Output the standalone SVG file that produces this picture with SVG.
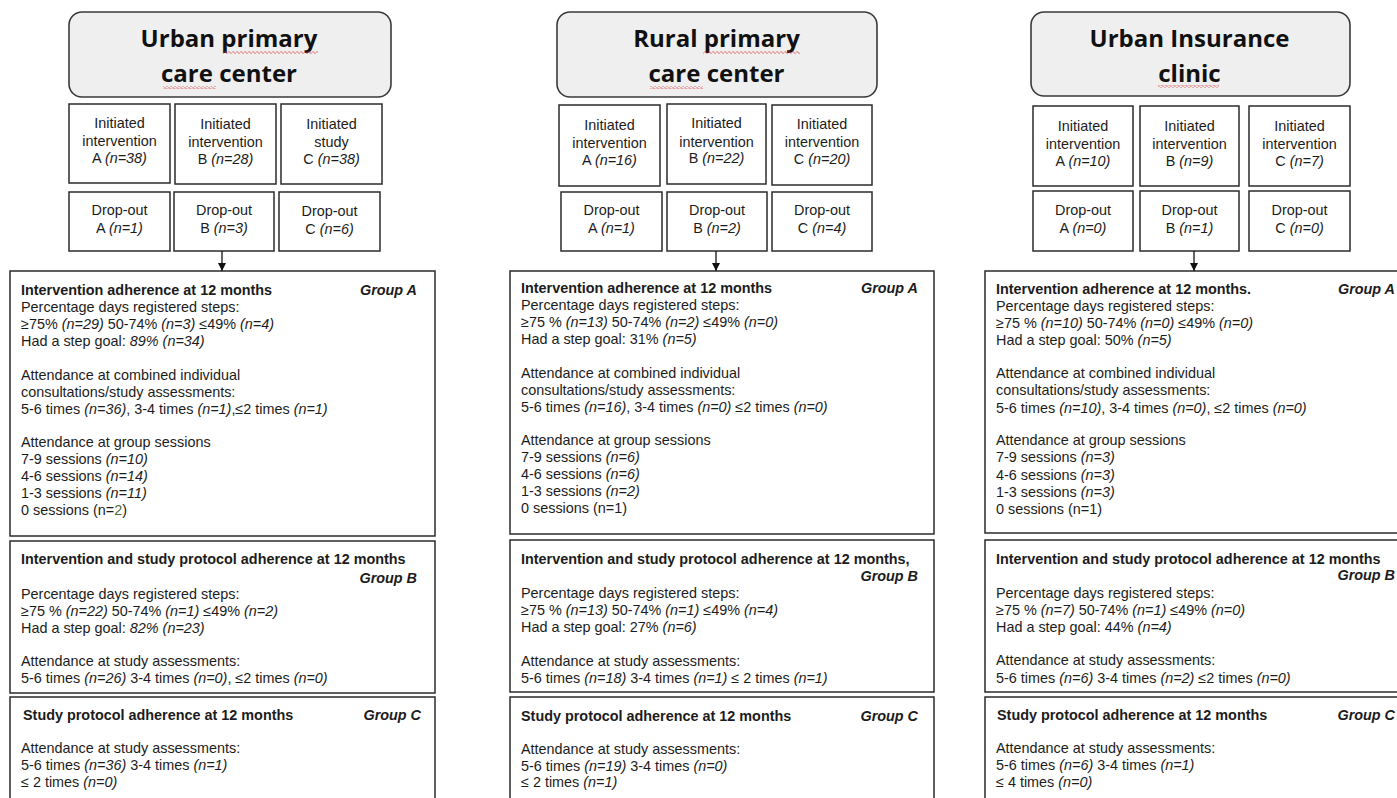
<svg xmlns="http://www.w3.org/2000/svg" width="1397" height="798" viewBox="0 0 1397 798">
<style>
.bg{fill:#ffffff}
.box{fill:#ffffff;stroke:#2b2b2b;stroke-width:1.5}
.hd{fill:#efefef;stroke:#3a3a3a;stroke-width:1.6}
.t{font-family:"Liberation Sans",Arial,sans-serif;font-size:14.4px;fill:#1c1c1c}
.c{text-anchor:middle}
.r{text-anchor:end}
.b{font-weight:bold}
.i{font-style:italic}
.h{font-family:"Open Sans","Liberation Sans",sans-serif;font-weight:bold;font-size:24px;text-anchor:middle;fill:#111111}
.g{fill:#4b6e33}
.sq{fill:url(#wave)}
.ln{stroke:#111111;stroke-width:1.3;fill:none}
</style>
<defs>
<pattern id="wave" x="0" y="0" width="4" height="3" patternUnits="userSpaceOnUse">
<path d="M0 1.5 L1 0.5 L3 2.5 L4 1.5" fill="none" stroke="#d93030" stroke-width="0.8"/>
</pattern>
<marker id="ah" viewBox="0 0 10 10" refX="10" refY="5" markerWidth="8" markerHeight="8" markerUnits="userSpaceOnUse" orient="auto">
<path d="M0 0 L10 5 L0 10 Z" fill="#111111"/>
</marker>
</defs>
<rect class="bg" x="0" y="0" width="1397" height="798"/>

<!-- LEFT COLUMN -->
<g id="urban-primary-title">
<rect class="hd" x="69" y="12" width="322" height="85" rx="13"/>
<text class="h" x="229" y="47">Urban primary</text>
<text class="h" x="229" y="82">care center</text>
<rect class="sq" x="223" y="51" width="95" height="3"/>
<rect class="sq" x="163" y="86" width="53" height="3"/>
</g>
<g id="up-init-a">
<rect class="box" x="69" y="104" width="101" height="79"/>
<text class="t c" x="119.5" y="128">Initiated</text>
<text class="t c" x="119.5" y="146">intervention</text>
<text class="t c" x="119.5" y="163">A <tspan class="i">(n=38)</tspan></text>
</g>
<g id="up-init-b">
<rect class="box" x="175" y="104" width="101" height="80"/>
<text class="t c" x="225.5" y="129">Initiated</text>
<text class="t c" x="225.5" y="147">intervention</text>
<text class="t c" x="225.5" y="164">B <tspan class="i">(n=28)</tspan></text>
</g>
<g id="up-init-c">
<rect class="box" x="281" y="104" width="101" height="80"/>
<text class="t c" x="331.5" y="129">Initiated</text>
<text class="t c" x="331.5" y="147">study</text>
<text class="t c" x="331.5" y="164">C <tspan class="i">(n=38)</tspan></text>
</g>
<g id="up-drop-a">
<rect class="box" x="69" y="192" width="101" height="59"/>
<text class="t c" x="119.5" y="215">Drop-out</text>
<text class="t c" x="119.5" y="233">A <tspan class="i">(n=1)</tspan></text>
</g>
<g id="up-drop-b">
<rect class="box" x="174" y="192" width="100" height="59"/>
<text class="t c" x="224" y="215">Drop-out</text>
<text class="t c" x="224" y="233">B <tspan class="i">(n=3)</tspan></text>
</g>
<g id="up-drop-c">
<rect class="box" x="279" y="192" width="101" height="59"/>
<text class="t c" x="329.5" y="216">Drop-out</text>
<text class="t c" x="329.5" y="234">C <tspan class="i">(n=6)</tspan></text>
</g>
<g id="up-group-a">
<rect class="box" x="10" y="271" width="425" height="265"/>
<text class="t b" x="21" y="295">Intervention adherence at 12 months</text>
<text class="t b i r" x="417" y="295">Group A</text>
<text class="t" x="21" y="312">Percentage days registered steps:</text>
<text class="t" x="21" y="329">≥75% <tspan class="i">(n=29)</tspan> 50-74% <tspan class="i">(n=3)</tspan> ≤49% <tspan class="i">(n=4)</tspan></text>
<text class="t" x="21" y="346">Had a step goal: <tspan class="i">89% (n=34)</tspan></text>
<text class="t" x="21" y="380">Attendance at combined individual</text>
<text class="t" x="21" y="397">consultations/study assessments:</text>
<text class="t" x="21" y="414">5-6 times <tspan class="i">(n=36)</tspan>, 3-4 times <tspan class="i">(n=1)</tspan>,≤2 times <tspan class="i">(n=1)</tspan></text>
<text class="t" x="21" y="447">Attendance at group sessions</text>
<text class="t" x="21" y="464">7-9 sessions <tspan class="i">(n=10)</tspan></text>
<text class="t" x="21" y="481">4-6 sessions <tspan class="i">(n=14)</tspan></text>
<text class="t" x="21" y="498">1-3 sessions <tspan class="i">(n=11)</tspan></text>
<text class="t" x="21" y="515">0 sessions (n=<tspan class="g">2</tspan>)</text>
</g>
<g id="up-group-b">
<rect class="box" x="10" y="541" width="425" height="152"/>
<text class="t b" x="21" y="564">Intervention and study protocol adherence at 12 months</text>
<text class="t b i r" x="417" y="583">Group B</text>
<text class="t" x="21" y="599">Percentage days registered steps:</text>
<text class="t" x="21" y="616">≥75 % <tspan class="i">(n=22)</tspan> 50-74% <tspan class="i">(n=1)</tspan> ≤49% <tspan class="i">(n=2)</tspan></text>
<text class="t" x="21" y="633">Had a step goal: <tspan class="i">82% (n=23)</tspan></text>
<text class="t" x="21" y="666">Attendance at study assessments:</text>
<text class="t" x="21" y="683">5-6 times <tspan class="i">(n=26)</tspan> 3-4 times <tspan class="i">(n=0)</tspan>, ≤2 times <tspan class="i">(n=0)</tspan></text>
</g>
<g id="up-group-c">
<rect class="box" x="10" y="697" width="425" height="110"/>
<text class="t b" x="23" y="720">Study protocol adherence at 12 months</text>
<text class="t b i r" x="421" y="720">Group C</text>
<text class="t" x="21" y="753">Attendance at study assessments:</text>
<text class="t" x="21" y="770">5-6 times <tspan class="i">(n=36)</tspan> 3-4 times <tspan class="i">(n=1)</tspan></text>
<text class="t" x="21" y="787">≤ 2 times <tspan class="i">(n=0)</tspan></text>
</g>

<!-- MIDDLE COLUMN -->
<g id="rural-primary-title">
<rect class="hd" x="557" y="12" width="320" height="85" rx="13"/>
<text class="h" x="716.5" y="47">Rural primary</text>
<text class="h" x="716.5" y="82">care center</text>
<rect class="sq" x="703" y="51" width="97" height="3"/>
<rect class="sq" x="650" y="86" width="53" height="3"/>
</g>
<g id="rp-init-a">
<rect class="box" x="559" y="105" width="101" height="81"/>
<text class="t c" x="609.5" y="130">Initiated</text>
<text class="t c" x="609.5" y="148">intervention</text>
<text class="t c" x="609.5" y="165">A <tspan class="i">(n=16)</tspan></text>
</g>
<g id="rp-init-b">
<rect class="box" x="667" y="104" width="99" height="80"/>
<text class="t c" x="716.5" y="128">Initiated</text>
<text class="t c" x="716.5" y="147">intervention</text>
<text class="t c" x="716.5" y="163">B <tspan class="i">(n=22)</tspan></text>
</g>
<g id="rp-init-c">
<rect class="box" x="772" y="105" width="100" height="80"/>
<text class="t c" x="822" y="129">Initiated</text>
<text class="t c" x="822" y="147">intervention</text>
<text class="t c" x="822" y="164">C <tspan class="i">(n=20)</tspan></text>
</g>
<g id="rp-drop-a">
<rect class="box" x="561" y="192" width="101" height="59"/>
<text class="t c" x="611.5" y="215">Drop-out</text>
<text class="t c" x="611.5" y="233">A <tspan class="i">(n=1)</tspan></text>
</g>
<g id="rp-drop-b">
<rect class="box" x="667" y="192" width="100" height="59"/>
<text class="t c" x="717" y="215">Drop-out</text>
<text class="t c" x="717" y="233">B <tspan class="i">(n=2)</tspan></text>
</g>
<g id="rp-drop-c">
<rect class="box" x="772" y="192" width="100" height="59"/>
<text class="t c" x="822" y="215">Drop-out</text>
<text class="t c" x="822" y="233">C <tspan class="i">(n=4)</tspan></text>
</g>
<g id="rp-group-a">
<rect class="box" x="510" y="271" width="424" height="263"/>
<text class="t b" x="521" y="293">Intervention adherence at 12 months</text>
<text class="t b i r" x="918" y="293">Group A</text>
<text class="t" x="521" y="310">Percentage days registered steps:</text>
<text class="t" x="521" y="327">≥75 % <tspan class="i">(n=13)</tspan> 50-74% <tspan class="i">(n=2)</tspan> ≤49% <tspan class="i">(n=0)</tspan></text>
<text class="t" x="521" y="344">Had a step goal: 31% <tspan class="i">(n=5)</tspan></text>
<text class="t" x="521" y="378">Attendance at combined individual</text>
<text class="t" x="521" y="395">consultations/study assessments:</text>
<text class="t" x="521" y="412">5-6 times <tspan class="i">(n=16)</tspan>, 3-4 times <tspan class="i">(n=0)</tspan> ≤2 times <tspan class="i">(n=0)</tspan></text>
<text class="t" x="521" y="445">Attendance at group sessions</text>
<text class="t" x="521" y="462">7-9 sessions <tspan class="i">(n=6)</tspan></text>
<text class="t" x="521" y="479">4-6 sessions <tspan class="i">(n=6)</tspan></text>
<text class="t" x="521" y="496">1-3 sessions <tspan class="i">(n=2)</tspan></text>
<text class="t" x="521" y="513">0 sessions (n=1)</text>
</g>
<g id="rp-group-b">
<rect class="box" x="510" y="540" width="424" height="152"/>
<text class="t b" x="521" y="564">Intervention and study protocol adherence at 12 months,</text>
<text class="t b i r" x="918" y="581">Group B</text>
<text class="t" x="521" y="598">Percentage days registered steps:</text>
<text class="t" x="521" y="615">≥75 % <tspan class="i">(n=13)</tspan> 50-74% <tspan class="i">(n=1)</tspan> ≤49% <tspan class="i">(n=4)</tspan></text>
<text class="t" x="521" y="632">Had a step goal: 27% <tspan class="i">(n=6)</tspan></text>
<text class="t" x="521" y="666">Attendance at study assessments:</text>
<text class="t" x="521" y="683">5-6 times <tspan class="i">(n=18)</tspan> 3-4 times <tspan class="i">(n=1)</tspan> ≤ 2 times <tspan class="i">(n=1)</tspan></text>
</g>
<g id="rp-group-c">
<rect class="box" x="510" y="697" width="424" height="110"/>
<text class="t b" x="521" y="721">Study protocol adherence at 12 months</text>
<text class="t b i r" x="918" y="721">Group C</text>
<text class="t" x="521" y="754">Attendance at study assessments:</text>
<text class="t" x="521" y="771">5-6 times <tspan class="i">(n=19)</tspan> 3-4 times <tspan class="i">(n=0)</tspan></text>
<text class="t" x="521" y="787">≤ 2 times <tspan class="i">(n=1)</tspan></text>
</g>

<!-- RIGHT COLUMN -->
<g id="urban-insurance-title">
<rect class="hd" x="1031" y="12" width="319" height="84" rx="13"/>
<text class="h" x="1189.5" y="47">Urban Insurance</text>
<text class="h" x="1189.5" y="82">clinic</text>
<rect class="sq" x="1158" y="85" width="61" height="3"/>
</g>
<g id="ui-init-a">
<rect class="box" x="1033" y="106" width="100" height="80"/>
<text class="t c" x="1083" y="131">Initiated</text>
<text class="t c" x="1083" y="149">intervention</text>
<text class="t c" x="1083" y="166">A <tspan class="i">(n=10)</tspan></text>
</g>
<g id="ui-init-b">
<rect class="box" x="1140" y="106" width="99" height="80"/>
<text class="t c" x="1189.5" y="131">Initiated</text>
<text class="t c" x="1189.5" y="149">intervention</text>
<text class="t c" x="1189.5" y="166">B <tspan class="i">(n=9)</tspan></text>
</g>
<g id="ui-init-c">
<rect class="box" x="1249" y="106" width="101" height="80"/>
<text class="t c" x="1299.5" y="131">Initiated</text>
<text class="t c" x="1299.5" y="149">intervention</text>
<text class="t c" x="1299.5" y="166">C <tspan class="i">(n=7)</tspan></text>
</g>
<g id="ui-drop-a">
<rect class="box" x="1033" y="191" width="100" height="60"/>
<text class="t c" x="1083" y="215">Drop-out</text>
<text class="t c" x="1083" y="233">A <tspan class="i">(n=0)</tspan></text>
</g>
<g id="ui-drop-b">
<rect class="box" x="1140" y="191" width="99" height="60"/>
<text class="t c" x="1189.5" y="215">Drop-out</text>
<text class="t c" x="1189.5" y="233">B <tspan class="i">(n=1)</tspan></text>
</g>
<g id="ui-drop-c">
<rect class="box" x="1249" y="191" width="101" height="60"/>
<text class="t c" x="1299.5" y="215">Drop-out</text>
<text class="t c" x="1299.5" y="233">C <tspan class="i">(n=0)</tspan></text>
</g>
<g id="ui-group-a">
<rect class="box" x="985" y="271" width="425" height="262"/>
<text class="t b" x="996" y="294">Intervention adherence at 12 months.</text>
<text class="t b i r" x="1395" y="294">Group A</text>
<text class="t" x="996" y="311">Percentage days registered steps:</text>
<text class="t" x="996" y="328">≥75 % <tspan class="i">(n=10)</tspan> 50-74% <tspan class="i">(n=0)</tspan> ≤49% <tspan class="i">(n=0)</tspan></text>
<text class="t" x="996" y="345">Had a step goal: 50% <tspan class="i">(n=5)</tspan></text>
<text class="t" x="996" y="378">Attendance at combined individual</text>
<text class="t" x="996" y="395">consultations/study assessments:</text>
<text class="t" x="996" y="413">5-6 times <tspan class="i">(n=10)</tspan>, 3-4 times <tspan class="i">(n=0)</tspan>, ≤2 times <tspan class="i">(n=0)</tspan></text>
<text class="t" x="996" y="445">Attendance at group sessions</text>
<text class="t" x="996" y="462">7-9 sessions <tspan class="i">(n=3)</tspan></text>
<text class="t" x="996" y="480">4-6 sessions <tspan class="i">(n=3)</tspan></text>
<text class="t" x="996" y="497">1-3 sessions <tspan class="i">(n=3)</tspan></text>
<text class="t" x="996" y="514">0 sessions (n=1)</text>
</g>
<g id="ui-group-b">
<rect class="box" x="985" y="540" width="425" height="152"/>
<text class="t b" x="996" y="564">Intervention and study protocol adherence at 12 months</text>
<text class="t b i r" x="1395" y="580">Group B</text>
<text class="t" x="996" y="598">Percentage days registered steps:</text>
<text class="t" x="996" y="615">≥75 % <tspan class="i">(n=7)</tspan> 50-74% <tspan class="i">(n=1)</tspan> ≤49% <tspan class="i">(n=0)</tspan></text>
<text class="t" x="996" y="632">Had a step goal: 44% <tspan class="i">(n=4)</tspan></text>
<text class="t" x="996" y="665">Attendance at study assessments:</text>
<text class="t" x="996" y="683">5-6 times <tspan class="i">(n=6)</tspan> 3-4 times <tspan class="i">(n=2)</tspan> ≤2 times <tspan class="i">(n=0)</tspan></text>
</g>
<g id="ui-group-c">
<rect class="box" x="985" y="697" width="425" height="110"/>
<text class="t b" x="997" y="720">Study protocol adherence at 12 months</text>
<text class="t b i r" x="1395" y="720">Group C</text>
<text class="t" x="996" y="753">Attendance at study assessments:</text>
<text class="t" x="996" y="770">5-6 times <tspan class="i">(n=6)</tspan> 3-4 times <tspan class="i">(n=1)</tspan></text>
<text class="t" x="996" y="787">≤ 4 times <tspan class="i">(n=0)</tspan></text>
</g>

<g id="connectors">
<line class="ln" x1="222" y1="251" x2="222" y2="271" marker-end="url(#ah)"/>
<line class="ln" x1="716" y1="251" x2="716" y2="271" marker-end="url(#ah)"/>
<line class="ln" x1="1194" y1="251" x2="1194" y2="271" marker-end="url(#ah)"/>
</g>
</svg>
